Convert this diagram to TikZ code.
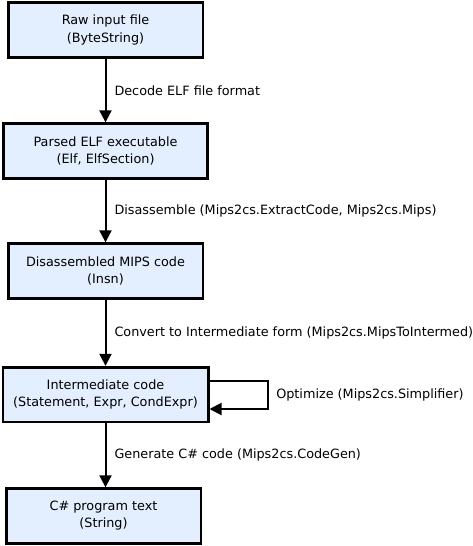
\documentclass[tikz,border=0pt]{standalone}
\usepackage{fontspec}
\setmainfont{DejaVu Sans}
\usetikzlibrary{arrows.meta}
\definecolor{boxfill}{RGB}{227,238,254}
\begin{document}
\begin{tikzpicture}[x=0.75pt,y=-0.75pt,
  stage/.style={draw=black,line width=2pt,fill=boxfill,minimum height=41pt,align=center,font=\fontsize{9.6}{12.8}\selectfont,inner sep=0pt},
  lbl/.style={anchor=west,font=\fontsize{9.6}{12}\selectfont,inner sep=0pt},
  flow/.style={line width=1.5pt,-{Triangle[length=9pt,width=9pt]}}]
\useasboundingbox (0,0) rectangle (472,546);
\node[stage,minimum width=146pt] (raw) at (105.5,30) {Raw input file\\(ByteString)};
\node[stage,minimum width=153pt] (elf) at (105.5,151) {Parsed ELF executable\\(Elf, ElfSection)};
\node[stage,minimum width=146pt] (mips) at (105.5,271) {Disassembled MIPS code\\(Insn)};
\node[stage,minimum width=154pt] (inter) at (105.5,394.5) {Intermediate code\\(Statement, Expr, CondExpr)};
\node[stage,minimum width=146pt] (cs) at (103.5,516) {C\# program text\\(String)};
\coordinate (l1) at (268,381);
\coordinate (l2) at (268,409);
\draw[flow] (raw) -- (elf) node[lbl,midway,xshift=6pt] {Decode ELF file format};
\draw[flow] (elf) -- (mips) node[lbl,midway,xshift=6pt] {Disassemble (Mips2cs.ExtractCode, Mips2cs.Mips)};
\draw[flow] (mips) -- (inter) node[lbl,midway,xshift=6pt] {Convert to Intermediate form (Mips2cs.MipsToIntermed)};
\draw[flow] (inter.east |- l1) -- (l1) -- (l2) -- (inter.east |- l2);
\node[lbl] (opt) at (276,395) {Optimize (Mips2cs.Simplifier)};
\draw[flow] (inter.south) -- (inter.south |- cs.north) node[lbl,midway,xshift=6pt] {Generate C\# code (Mips2cs.CodeGen)};
\end{tikzpicture}
\end{document}
